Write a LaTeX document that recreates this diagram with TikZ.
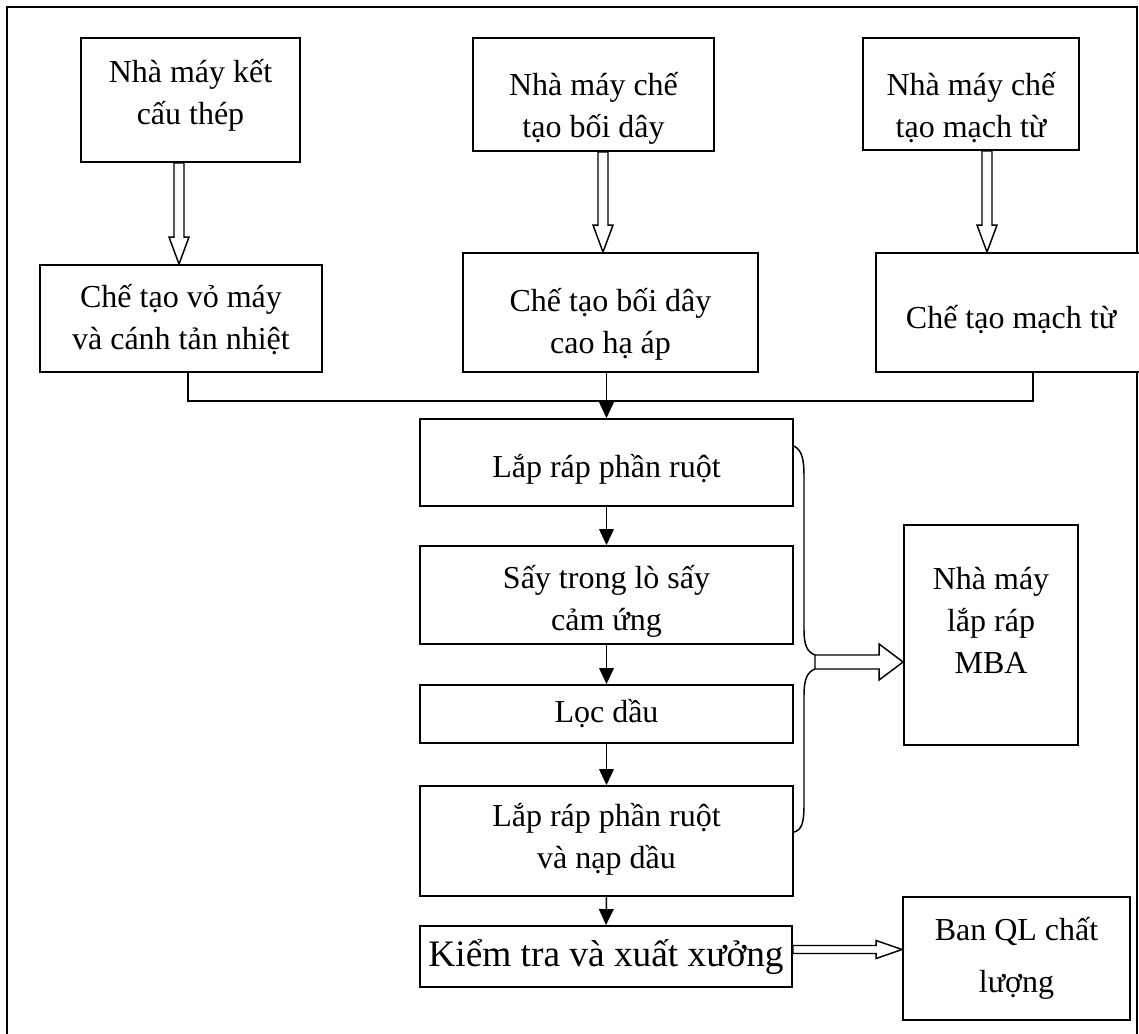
\documentclass[tikz,border=0pt]{standalone}
\usepackage{fontspec}
\setmainfont{Liberation Serif}
\usetikzlibrary{calc,arrows.meta}

% hollow block arrow pointing down: source node, target node, horizontal offset
\newcommand\downblock[3]{%
  \path ($(#1.south)+(#3,0)$) coordinate (bs) (bs |- #2.north) coordinate (bt);
  \draw[hollow] ($(bs)+(-5,0)$) -- ($(bt)+(-5,-27)$) -- ($(bt)+(-10,-27)$) -- (bt)
    -- ($(bt)+(10,-27)$) -- ($(bt)+(5,-27)$) -- ($(bs)+(5,0)$) -- cycle;}
% hollow block arrow pointing right: start point, target node, shaft half width, head half width, head length
\newcommand\rightblock[5]{%
  \path (#1) coordinate (bs) (bs -| #2.west) coordinate (bt);
  \draw[hollow] ($(bs)+(0,-#3)$) -- ($(bt)+(-#5,-#3)$) -- ($(bt)+(-#5,-#4)$) -- (bt)
    -- ($(bt)+(-#5,#4)$) -- ($(bt)+(-#5,#3)$) -- ($(bs)+(0,#3)$) -- cycle;}

\begin{document}
\begin{tikzpicture}[x=0.75pt,y=-0.75pt,
  box/.style={draw, line width=1.4pt, fill=white, inner sep=0pt},
  txt/.style={font=\fontsize{24}{31.5}\selectfont, align=center, inner sep=0pt},
  size/.style 2 args={minimum width=#1*0.75pt, minimum height=#2*0.75pt},
  flow/.style={line width=1.1pt, -{Triangle[length=12pt,width=11pt]}},
  hollow/.style={draw, line width=1.1pt, fill=white, line join=miter},
  frame/.style={line width=2.2pt},
  brace/.style={line width=1.1pt},
]
\useasboundingbox (0,0) rectangle (1139,1034);

% outer frame
\draw[frame] (7,1060) -- (7,7) -- (1137,7) -- (1137,1060);

% supplier plants and their workshops
\node[box, size={219}{124}, label={[txt, name=At, yshift=3.75pt]center:{Nhà máy kết\\cấu thép}}] (A) at (190.5,100) {};
\node[box, size={282}{107}, label={[txt, name=Bt, yshift=-1pt]center:{Chế tạo vỏ máy\\và cánh tản nhiệt}}] (B) at (181,318.5) {};
\node[box, size={241}{113}, label={[txt, name=Ct, yshift=-10.5pt]center:{Nhà máy chế\\tạo bối dây}}] (C) at (593.5,94.5) {};
\node[box, size={295}{119}, label={[txt, name=Dt, yshift=-9pt]center:{Chế tạo bối dây\\cao hạ áp}}] (D) at (610.5,312.5) {};
\node[box, size={216}{112}, label={[txt, name=Et, yshift=-10.5pt]center:{Nhà máy chế\\tạo mạch từ}}] (E) at (971,94) {};
\node[box, size={284}{119}, label={[txt, name=Ft, yshift=-5.25pt, xshift=-5.25pt]center:{Chế tạo mạch từ}}] (F) at (1018,312.5) {};

% assembly line
\node[box, size={373}{87}, label={[txt, name=Gt, yshift=-5.25pt]center:{Lắp ráp phần ruột}}] (G) at (606.5,462.5) {};
\node[box, size={373}{98}, label={[txt, name=Ht, yshift=-4.5pt]center:{Sấy trong lò sấy\\cảm ứng}}] (H) at (606.5,595) {};
\node[box, size={373}{58}, label={[txt, name=It]center:{Lọc dầu}}] (I) at (606.5,714) {};
\node[box, size={373}{110}, label={[txt, name=Jt, yshift=1.5pt]center:{Lắp ráp phần ruột\\và nạp dầu}}] (J) at (606.5,841) {};
\node[box, size={372}{61}, label={[txt, name=Kt, font=\fontsize{28}{34}\selectfont]center:{Kiểm tra và xuất xưởng}}] (K) at (606,956.5) {};

% receivers
\node[box, size={174}{220}, label={[txt, name=Mt, yshift=11.25pt]center:{Nhà máy\\lắp ráp\\MBA}}] (M) at (991,635) {};
\node[box, size={227}{123}, label={[txt, name=Lt]center:{Ban QL chất\\[8pt]lượng}}] (L) at (1016.5,958.5) {};

% plant -> workshop transfers
\downblock{A}{B}{-11.5}
\downblock{C}{D}{9.5}
\downblock{E}{F}{16}

% collecting bus into the assembly line
\coordinate (fdrop) at (1033,372);
\coordinate (busR) at (1033,401);
\draw[line width=1.1pt] ($(B.south)+(7,0)$) |- (busR) -- (fdrop);
\draw[flow] (D.south -| G.north) -- (G.north);
\draw[flow] (G.south) -- (H.north);
\draw[flow] (H.south) -- (I.north);
\draw[flow] (I.south) -- (J.north);
\draw[flow] (J.south) -- (K.north);

% brace gathering the assembly steps
\coordinate (bfoot) at (815,662);
\draw[brace] ($(G.north east)+(0,28)$) .. controls (802,450) and (804,460) .. (804,475)
  -- (804,630) .. controls (804,645) and (807,652) .. ($(bfoot)+(0,-7)$);
\draw[brace] ($(bfoot)+(0,7)$) .. controls (807,672) and (804,680) .. (804,695)
  -- (804,805) .. controls (804,822) and (802,830) .. ($(J.north east)+(0,47)$);
\rightblock{bfoot}{M}{7}{18}{24}

% release to quality control
\rightblock{$(K.east)+(0,-7)$}{L}{4}{9}{26}
\end{tikzpicture}
\end{document}
